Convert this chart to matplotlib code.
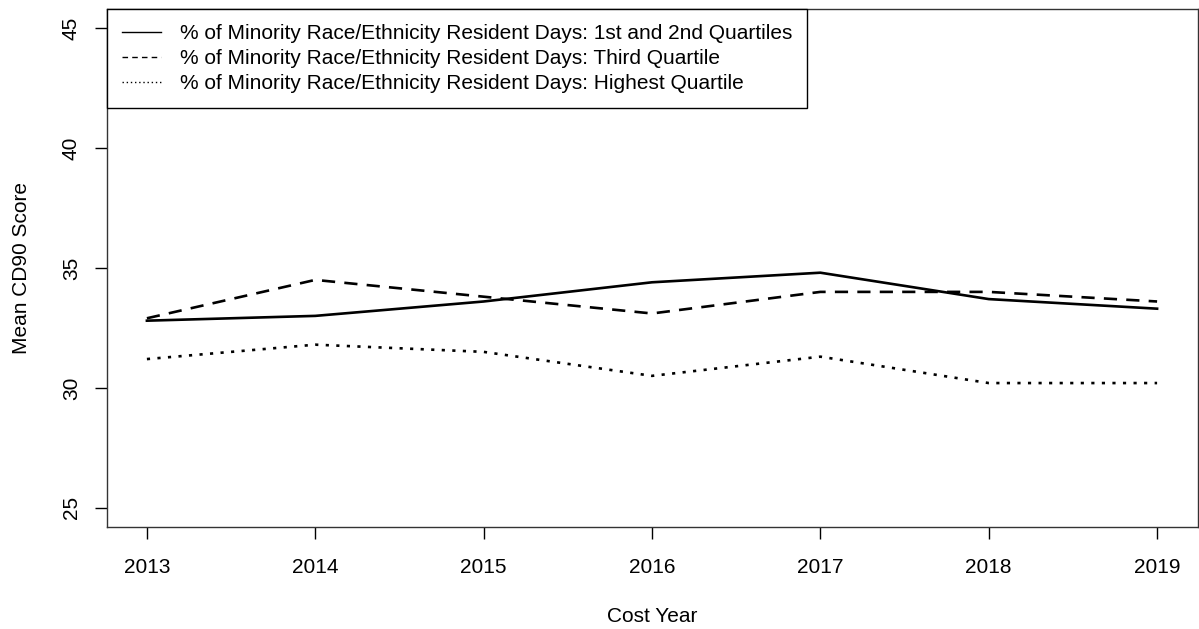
import matplotlib.pyplot as plt
from matplotlib.lines import Line2D

plt.rcParams['font.family'] = ['Liberation Sans', 'DejaVu Sans']

years = [2013, 2014, 2015, 2016, 2017, 2018, 2019]
q12 = [32.8, 33.0, 33.6, 34.4, 34.8, 33.7, 33.3]
q3 = [32.9, 34.5, 33.8, 33.1, 34.0, 34.0, 33.6]
q4 = [31.2, 31.8, 31.5, 30.5, 31.3, 30.2, 30.2]

labels = [
    '% of Minority Race/Ethnicity Resident Days: 1st and 2nd Quartiles',
    '% of Minority Race/Ethnicity Resident Days: Third Quartile',
    '% of Minority Race/Ethnicity Resident Days: Highest Quartile',
]

fig = plt.figure(figsize=(11.99, 6.29), dpi=100)
ax = fig.add_axes([106.5 / 1199, (629 - 527) / 629, (1197.5 - 106.5) / 1199, (527 - 8.8) / 629])

ax.plot(years, q12, color='black', lw=1.9, linestyle='-')
ax.plot(years, q3, color='black', lw=1.9, linestyle=(0, (5, 3.5)))
ax.plot(years, q4, color='black', lw=1.9, linestyle=(0, (1.2, 2.8)))

ax.set_xlim(2012.76, 2019.24)
ax.set_ylim(24.2, 45.8)
ax.set_xticks(years)
ax.set_yticks([25, 30, 35, 40, 45])
ax.tick_params(axis='both', labelsize=15, length=8.5, width=1, direction='out')
ax.tick_params(axis='x', pad=14)
ax.tick_params(axis='y', pad=10)
for t in ax.get_yticklabels():
    t.set_rotation(90)
    t.set_va('center')
for s in ax.spines.values():
    s.set_linewidth(1)
    s.set_color('#333333')

ax.set_xlabel('Cost Year', fontsize=15, labelpad=21.5)
ax.set_ylabel('Mean CD90 Score', fontsize=15, labelpad=22.5)

handles = [
    Line2D([], [], color='black', lw=1, linestyle='-'),
    Line2D([], [], color='black', lw=1, linestyle=(0, (4, 3))),
    Line2D([], [], color='black', lw=1, linestyle=(0, (1, 2))),
]
leg = ax.legend(handles, labels, loc='upper left', bbox_to_anchor=(0, 1.0),
                borderaxespad=0, fancybox=False, edgecolor='black', fontsize=15,
                handlelength=1.9, handletextpad=0.9, labelspacing=0.3,
                borderpad=0.72, framealpha=1)
leg.get_frame().set_linewidth(1)

fig.savefig('out.png', dpi=100)
